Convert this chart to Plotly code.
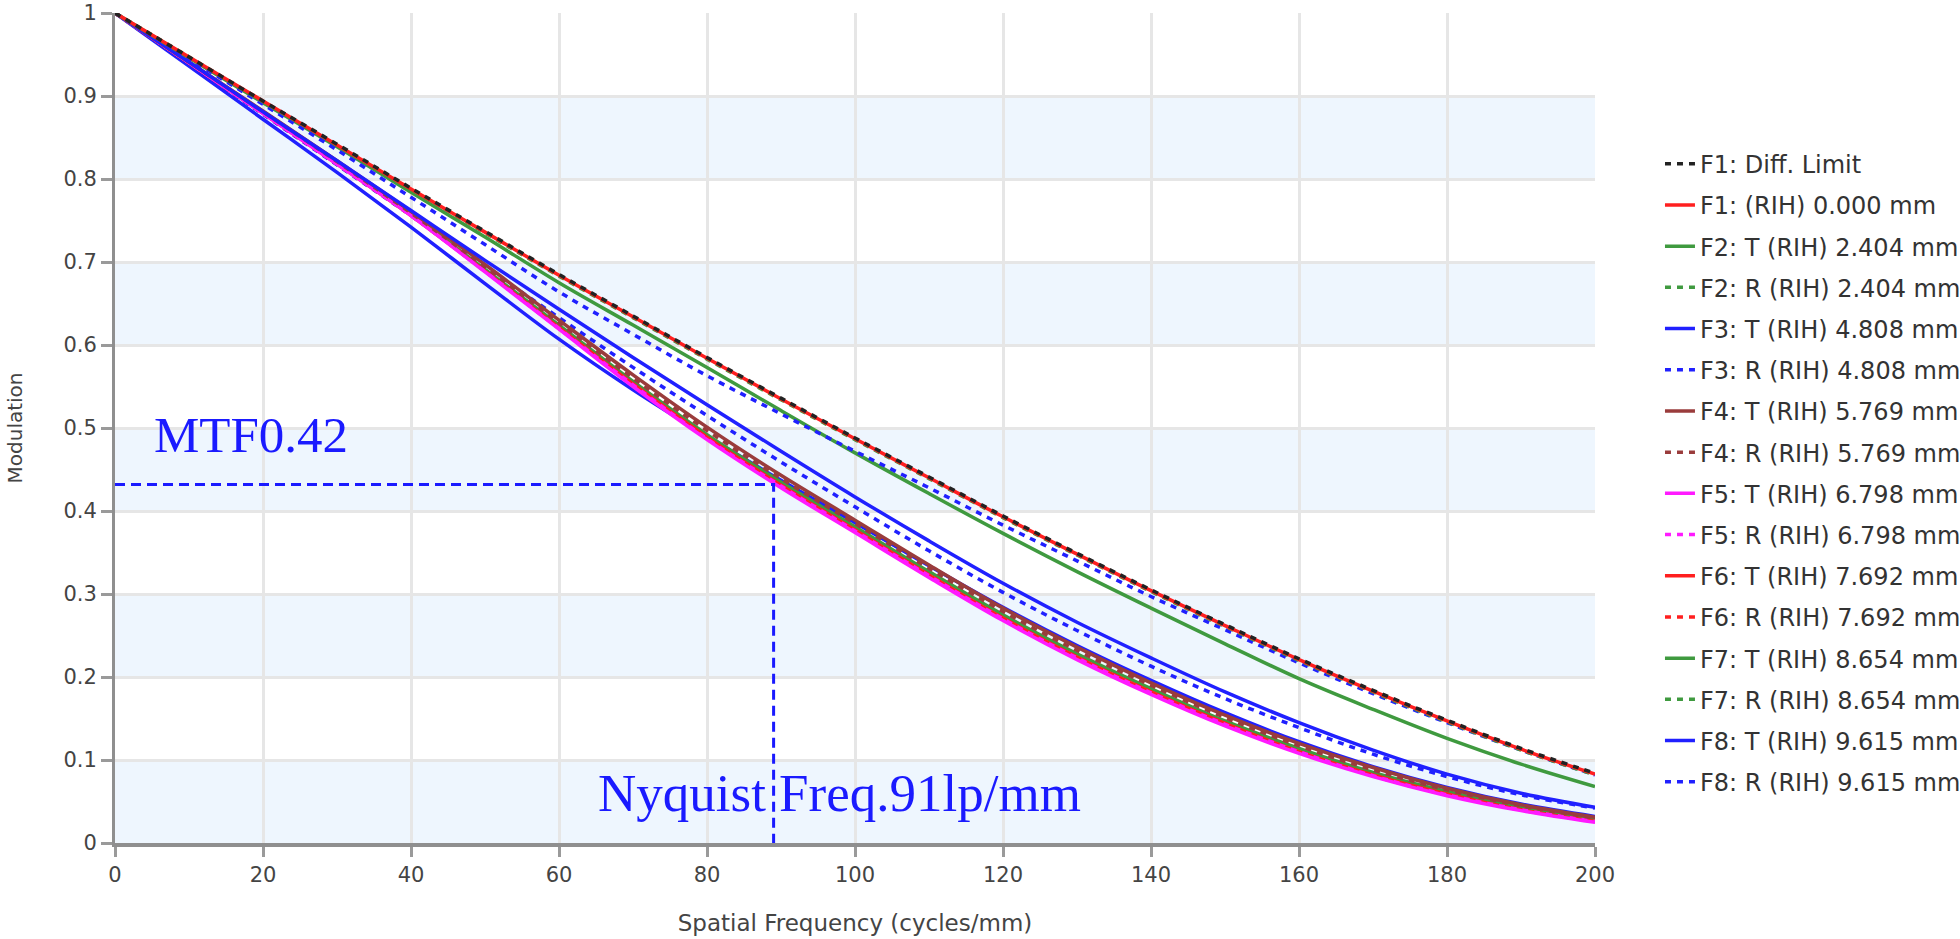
import plotly.graph_objects as go

freq = [0, 10, 20, 30, 40, 50, 60, 70, 80, 90, 100, 110, 120, 130, 140, 150, 160, 170, 180, 190, 200]

diff_limit = [1.000, 0.947, 0.894, 0.842, 0.789, 0.737, 0.685, 0.635, 0.585, 0.536, 0.488, 0.441, 0.394, 0.349, 0.305, 0.263, 0.222, 0.184, 0.148, 0.114, 0.084]
f1 = [1.000, 0.947, 0.894, 0.841, 0.788, 0.736, 0.684, 0.634, 0.584, 0.535, 0.487, 0.440, 0.393, 0.348, 0.304, 0.262, 0.221, 0.183, 0.147, 0.113, 0.083]
f2_t = [1.000, 0.946, 0.892, 0.839, 0.784, 0.730, 0.675, 0.624, 0.573, 0.521, 0.470, 0.421, 0.373, 0.327, 0.283, 0.240, 0.198, 0.161, 0.126, 0.095, 0.068]
f2_r = [1.000, 0.947, 0.893, 0.841, 0.788, 0.735, 0.683, 0.633, 0.583, 0.534, 0.486, 0.439, 0.392, 0.347, 0.303, 0.261, 0.220, 0.182, 0.146, 0.112, 0.082]
f3_t = [1.000, 0.941, 0.881, 0.822, 0.762, 0.702, 0.643, 0.585, 0.528, 0.472, 0.417, 0.364, 0.313, 0.266, 0.223, 0.182, 0.145, 0.112, 0.083, 0.060, 0.043]
f3_r = [1.000, 0.945, 0.890, 0.835, 0.778, 0.721, 0.664, 0.613, 0.563, 0.517, 0.472, 0.428, 0.383, 0.340, 0.297, 0.257, 0.217, 0.180, 0.145, 0.112, 0.082]
f4_t = [1.000, 0.941, 0.882, 0.822, 0.761, 0.697, 0.630, 0.564, 0.501, 0.443, 0.389, 0.335, 0.283, 0.236, 0.193, 0.154, 0.120, 0.091, 0.066, 0.046, 0.031]
f4_r = [1.000, 0.941, 0.881, 0.821, 0.759, 0.694, 0.627, 0.560, 0.497, 0.439, 0.385, 0.331, 0.279, 0.232, 0.190, 0.151, 0.117, 0.088, 0.064, 0.045, 0.030]
f5_t = [1.000, 0.940, 0.879, 0.818, 0.756, 0.688, 0.619, 0.550, 0.486, 0.428, 0.374, 0.320, 0.268, 0.221, 0.179, 0.141, 0.108, 0.080, 0.057, 0.039, 0.025]
f5_r = [1.000, 0.940, 0.879, 0.818, 0.756, 0.689, 0.620, 0.552, 0.487, 0.430, 0.376, 0.322, 0.270, 0.223, 0.181, 0.143, 0.110, 0.081, 0.058, 0.040, 0.026]
f6_t = [1.000, 0.940, 0.879, 0.818, 0.756, 0.689, 0.621, 0.553, 0.489, 0.431, 0.377, 0.323, 0.271, 0.224, 0.182, 0.144, 0.110, 0.082, 0.059, 0.040, 0.026]
f6_r = [1.000, 0.940, 0.879, 0.818, 0.756, 0.689, 0.620, 0.553, 0.488, 0.431, 0.377, 0.323, 0.271, 0.224, 0.182, 0.144, 0.110, 0.081, 0.058, 0.040, 0.026]
f7_t = [1.000, 0.940, 0.880, 0.820, 0.758, 0.691, 0.624, 0.556, 0.492, 0.435, 0.381, 0.327, 0.275, 0.228, 0.186, 0.147, 0.114, 0.085, 0.062, 0.043, 0.029]
f7_r = [1.000, 0.940, 0.880, 0.819, 0.757, 0.690, 0.622, 0.554, 0.490, 0.432, 0.378, 0.324, 0.272, 0.225, 0.183, 0.145, 0.111, 0.083, 0.060, 0.041, 0.027]
f8_t = [1.000, 0.936, 0.872, 0.808, 0.742, 0.674, 0.607, 0.546, 0.490, 0.437, 0.386, 0.334, 0.284, 0.238, 0.196, 0.157, 0.122, 0.092, 0.067, 0.047, 0.032]
f8_r = [1.000, 0.939, 0.878, 0.817, 0.756, 0.694, 0.633, 0.573, 0.515, 0.459, 0.405, 0.352, 0.302, 0.256, 0.213, 0.174, 0.139, 0.107, 0.080, 0.058, 0.042]

legend_names = [
    "F1: Diff. Limit",
    "F1: (RIH) 0.000 mm",
    "F2: T (RIH) 2.404 mm",
    "F2: R (RIH) 2.404 mm",
    "F3: T (RIH) 4.808 mm",
    "F3: R (RIH) 4.808 mm",
    "F4: T (RIH) 5.769 mm",
    "F4: R (RIH) 5.769 mm",
    "F5: T (RIH) 6.798 mm",
    "F5: R (RIH) 6.798 mm",
    "F6: T (RIH) 7.692 mm",
    "F6: R (RIH) 7.692 mm",
    "F7: T (RIH) 8.654 mm",
    "F7: R (RIH) 8.654 mm",
    "F8: T (RIH) 9.615 mm",
    "F8: R (RIH) 9.615 mm",
]
series = [diff_limit, f1, f2_t, f2_r, f3_t, f3_r, f4_t, f4_r, f5_t, f5_r, f6_t, f6_r, f7_t, f7_r, f8_t, f8_r]

nyquist_freq = 89
mtf_at_nyquist = 0.432
mtf_label = "MTF0.42"
nyquist_label = "Nyquist Freq.91lp/mm"

x_ticks = [0, 20, 40, 60, 80, 100, 120, 140, 160, 180, 200]
y_ticks = [0, 0.1, 0.2, 0.3, 0.4, 0.5, 0.6, 0.7, 0.8, 0.9, 1.0]

RED = "#ff1f1f"
GREEN = "#3f9a3f"
BLUE = "#2020ff"
BROWN = "#9a3c3c"
MAGENTA = "#ff1aff"
BLACK = "#222222"
colors = [BLACK, RED, GREEN, GREEN, BLUE, BLUE, BROWN, BROWN, MAGENTA, MAGENTA, RED, RED, GREEN, GREEN, BLUE, BLUE]
DOT = "6px,6px"
dashes = [DOT, "solid", "solid", DOT, "solid", DOT, "solid", DOT, "solid", DOT, "solid", DOT, "solid", DOT, "solid", DOT]

# drawing order: lower curves first, F1 and diffraction limit on top
draw_order = [15, 14, 13, 12, 11, 10, 9, 8, 7, 6, 4, 2, 5, 3, 1, 0]

fig = go.Figure()
for i in draw_order:
    fig.add_trace(go.Scatter(
        x=freq, y=series[i], mode="lines", name=legend_names[i],
        line=dict(color=colors[i], width=3.5, dash=dashes[i], shape="spline"),
        legendrank=i + 1, legendgroup="g%d" % i,
    ))

# Nyquist markers
fig.add_trace(go.Scatter(
    x=[0, nyquist_freq, nyquist_freq], y=[mtf_at_nyquist, mtf_at_nyquist, 0],
    mode="lines", line=dict(color="#1a1aff", width=3, dash="10px,6px"),
    showlegend=False, hoverinfo="skip",
))

# alternating light-blue bands: 0-0.1, 0.2-0.3, 0.4-0.5, 0.6-0.7, 0.8-0.9
shapes = []
for k in range(0, len(y_ticks) - 1, 2):
    shapes.append(dict(type="rect", xref="x domain", yref="y", x0=0, x1=1,
                       y0=y_ticks[k], y1=y_ticks[k + 1],
                       fillcolor="#eef6fe", line=dict(width=0), layer="below"))

annotations = [
    dict(x=5.0, y=0.492, xref="x", yref="y", text=mtf_label, showarrow=False,
         xanchor="left", yanchor="middle",
         font=dict(family="Liberation Serif, Times New Roman, serif", size=51, color="#1a1aff")),
    dict(x=65.0, y=0.060, xref="x", yref="y", text=nyquist_label, showarrow=False,
         xanchor="left", yanchor="middle",
         font=dict(family="Liberation Serif, Times New Roman, serif", size=53, color="#1a1aff")),
]

FONT = "DejaVu Sans, Verdana, sans-serif"
fig.update_layout(
    width=1960, height=939,
    margin=dict(l=115, r=365, t=13, b=96, autoexpand=False),
    paper_bgcolor="white", plot_bgcolor="white",
    shapes=shapes, annotations=annotations,
    font=dict(family=FONT, size=21, color="#444444"),
    showlegend=True,
    legend=dict(x=1.0439, xanchor="left", y=0.845, yanchor="top",
                font=dict(family=FONT, size=24, color="#333333"),
                tracegroupgap=7, bgcolor="rgba(0,0,0,0)"),
    xaxis=dict(range=[0, 200], tickvals=x_ticks, showgrid=True, gridcolor="#e6e6e6", gridwidth=3,
               showline=True, linecolor="#8f8f8f", linewidth=4, ticks="outside", ticklen=10,
               tickwidth=3, tickcolor="#9a9a9a", zeroline=False, automargin=False,
               ticklabeloverflow="allow",
               title=dict(text="Spatial Frequency (cycles/mm)", standoff=30, font=dict(size=23)),
               tickfont=dict(size=21, color="#444444")),
    yaxis=dict(range=[0, 1], tickvals=y_ticks, showgrid=True, gridcolor="#e6e6e6", gridwidth=3,
               showline=True, linecolor="#8f8f8f", linewidth=3, ticks="outside", ticklen=11,
               tickwidth=3, tickcolor="#9a9a9a", zeroline=False, automargin=False,
               ticklabeloverflow="allow",
               title=dict(text="Modulation", standoff=36, font=dict(size=20)),
               tickfont=dict(size=21, color="#444444")),
)

# remove the page's default 8px body margin so the figure fills the window exactly
fig.write_html("out.html", config={"displayModeBar": False},
               post_script="document.body.style.margin='0px';")
